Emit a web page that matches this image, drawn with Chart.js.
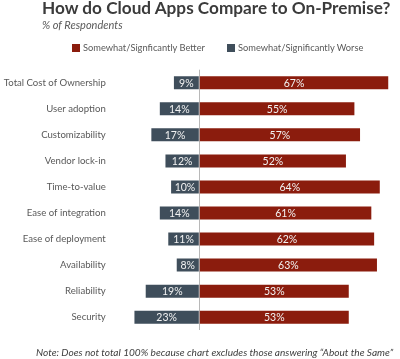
<!DOCTYPE html>
<html>
<head>
<meta charset="utf-8">
<script src="https://cdn.jsdelivr.net/npm/chart.js@4.4.0/dist/chart.umd.min.js"></script>
<style>
  body { margin: 0; background: #fff; }
  #wrap { position: relative; width: 400px; height: 359px; overflow: hidden; font-family: Lato, sans-serif; }
  #myChart { position: absolute; left: 0; top: 0; }
  .title { position: absolute; left: 42px; top: -3px; font-size: 17.2px; font-weight: bold; color: #3b3b3b; white-space: nowrap; }
  .subtitle { position: absolute; left: 42px; top: 18px; font-size: 11px; font-style: italic; color: #595959; white-space: nowrap; }
  .legend { position: absolute; top: 42px; font-size: 9.3px; color: #595959; white-space: nowrap; }
  .legend span.box { display: inline-block; width: 8px; height: 8px; margin-right: 3px; vertical-align: -1px; }
  .note { position: absolute; left: 36px; top: 346px; font-size: 10.1px; font-style: italic; color: #404040; white-space: nowrap; }
</style>
</head>
<body>
<div id="wrap">
  <canvas id="myChart" width="400" height="359"></canvas>
  <div class="title">How do Cloud Apps Compare to On-Premise?</div>
  <div class="subtitle">% of Respondents</div>
  <div class="legend" id="leg1" style="left:72px"></div>
  <div class="legend" id="leg2" style="left:227px"></div>
  <div class="note">Note: Does not total 100% because chart excludes those answering “About the Same”</div>
</div>
<script>
const categories = [
    'Total Cost of Ownership',
    'User adoption',
    'Customizability',
    'Vendor lock-in',
    'Time-to-value',
    'Ease of integration',
    'Ease of deployment',
    'Availability',
    'Reliability',
    'Security',
];
const seriesNames = ['Somewhat/Signficantly Better', 'Somewhat/Significantly Worse'];
const betterValues = [67, 55, 57, 52, 64, 61, 62, 63, 53, 53];
const worseValues = [9, 14, 17, 12, 10, 14, 11, 8, 19, 23];

const red = '#8b1c0d';
const slate = '#3f4e5b';

// подписи значений внутри столбцов
const valueLabels = {
    id: 'valueLabels',
    afterDatasetsDraw(chart) {
        const ctx = chart.ctx;
        ctx.save();
        ctx.font = '10.5px Lato, sans-serif';
        ctx.fillStyle = '#f2f2f2';
        ctx.textAlign = 'center';
        ctx.textBaseline = 'middle';
        chart.data.datasets.forEach((ds, i) => {
            chart.getDatasetMeta(i).data.forEach((bar, j) => {
                ctx.fillText(Math.abs(ds.data[j]) + '%', (bar.x + bar.base) / 2, bar.y + 0.5);
            });
        });
        ctx.restore();
    }
};

const data = {
    labels: categories,
    datasets: [{
        label: seriesNames[1],
        backgroundColor: slate,
        data: worseValues.map(v => -v),
    }, {
        label: seriesNames[0],
        backgroundColor: red,
        data: betterValues,
    }]
};

const config = {
    type: 'bar',
    data: data,
    options: {
        indexAxis: 'y',
        responsive: false,
        animation: false,
        layout: { padding: { top: 69.7, bottom: 23.7, left: 0, right: 3.3 } },
        barPercentage: 0.5,
        categoryPercentage: 1,
        plugins: {
            legend: { display: false },
            tooltip: { enabled: false },
        },
        scales: {
            x: {
                stacked: true,
                min: -25,
                max: 70,
                ticks: { display: false, stepSize: 5 },
                border: { display: false },
                grid: {
                    drawTicks: false,
                    color: c => c.tick && c.tick.value === 0 ? '#b8b8b8' : 'rgba(0,0,0,0)',
                },
            },
            y: {
                stacked: true,
                border: { display: false },
                grid: { display: false, drawTicks: false },
                ticks: {
                    padding: 23,
                    color: '#595959',
                    font: { family: 'Lato, sans-serif', size: 9.6 },
                },
                afterFit: scale => { scale.width = 128.8; },
            }
        }
    },
    plugins: [valueLabels]
};

const myChart = new Chart(document.getElementById('myChart'), config);

// легенда
document.getElementById('leg1').innerHTML = `<span class="box" style="background:${red}"></span>${seriesNames[0]}`;
document.getElementById('leg2').innerHTML = `<span class="box" style="background:${slate}"></span>${seriesNames[1]}`;
</script>
</body>
</html>
